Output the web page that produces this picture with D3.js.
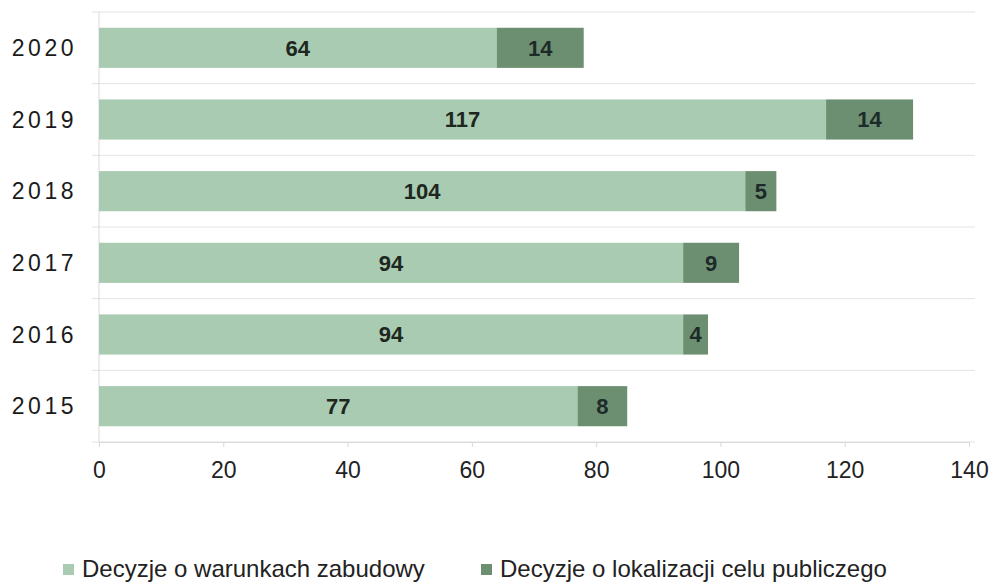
<!DOCTYPE html>
<html>
<head>
<meta charset="utf-8">
<script src="https://cdn.jsdelivr.net/npm/d3@7"></script>
<style>
  body { margin: 0; background: #fff; font-family: "Liberation Sans", Arial, sans-serif; }
</style>
</head>
<body>
<svg id="chart" width="992" height="583"></svg>
<script>
const years = ["2020", "2019", "2018", "2017", "2016", "2015"];
const warunki = [64, 117, 104, 94, 94, 77];
const lokalizacja = [14, 14, 5, 9, 4, 8];
const ticks = [0, 20, 40, 60, 80, 100, 120, 140];
const seriesNames = ["Decyzje o warunkach zabudowy", "Decyzje o lokalizacji celu publiczego"];
const colors = ["#a8cbb2", "#6d8f71"];

const margin = {top: 12, left: 99, right: 23, bottom: 141};
const width = 992 - margin.left - margin.right;
const height = 583 - margin.top - margin.bottom;

const svg = d3.select("#chart");
const g = svg.append("g").attr("transform", `translate(${margin.left},${margin.top})`);

const x = d3.scaleLinear().domain([0, 140]).range([0, width]);
const y = d3.scaleBand().domain(years).range([0, height]).paddingInner(0.44).paddingOuter(0.22);

// horizontal gridlines between rows
const lines = d3.range(years.length + 1).map(i => i * height / years.length);
g.selectAll(".grid")
  .data(lines)
  .enter().append("line")
  .attr("x1", -7).attr("x2", width + 6)
  .attr("y1", d => d).attr("y2", d => d)
  .attr("stroke", "#e3e3e3").attr("stroke-width", 1);

// vertical axis line
g.append("line")
  .attr("x1", 0).attr("x2", 0).attr("y1", 0).attr("y2", height)
  .attr("stroke", "#d9d9d9");

// x axis
const xAxis = g.append("g")
  .attr("transform", `translate(0,${height})`)
  .call(d3.axisBottom(x).tickValues(ticks).tickSize(5).tickPadding(15));
xAxis.select(".domain").attr("stroke", "#d9d9d9");
xAxis.selectAll(".tick line").attr("stroke", "#d9d9d9");
xAxis.selectAll("text")
  .attr("font-size", 23).attr("fill", "#222")
  .attr("font-family", "Liberation Sans, Arial, sans-serif");

// y labels
g.selectAll(".ylab")
  .data(years)
  .enter().append("text")
  .attr("x", -22)
  .attr("y", d => y(d) + y.bandwidth() / 2)
  .attr("dy", "0.36em")
  .attr("text-anchor", "end")
  .attr("font-size", 23)
  .attr("letter-spacing", 3.5)
  .attr("fill", "#1a1a1a")
  .text(d => d);

// bars
const rows = years.map((yr, i) => ({year: yr, a: warunki[i], b: lokalizacja[i]}));

g.selectAll(".barA")
  .data(rows)
  .enter().append("rect")
  .attr("x", x(0))
  .attr("y", d => y(d.year))
  .attr("width", d => x(d.a) - x(0))
  .attr("height", y.bandwidth())
  .attr("fill", colors[0]);

g.selectAll(".barB")
  .data(rows)
  .enter().append("rect")
  .attr("x", d => x(d.a))
  .attr("y", d => y(d.year))
  .attr("width", d => x(d.a + d.b) - x(d.a))
  .attr("height", y.bandwidth())
  .attr("fill", colors[1]);

g.selectAll(".labA")
  .data(rows)
  .enter().append("text")
  .attr("x", d => x(d.a / 2))
  .attr("y", d => y(d.year) + y.bandwidth() / 2)
  .attr("dy", "0.36em")
  .attr("text-anchor", "middle")
  .attr("font-size", 22).attr("font-weight", "bold")
  .attr("fill", "#1e2620")
  .text(d => d.a);

g.selectAll(".labB")
  .data(rows)
  .enter().append("text")
  .attr("x", d => x(d.a + d.b / 2))
  .attr("y", d => y(d.year) + y.bandwidth() / 2)
  .attr("dy", "0.36em")
  .attr("text-anchor", "middle")
  .attr("font-size", 22).attr("font-weight", "bold")
  .attr("fill", "#1c2b2a")
  .text(d => d.b);

// legend
const legendX = [63, 481];
const legend = svg.selectAll(".legend")
  .data(seriesNames)
  .enter().append("g")
  .attr("transform", (d, i) => `translate(${legendX[i]},564)`);
legend.append("rect")
  .attr("x", 0).attr("y", 0).attr("width", 11).attr("height", 11)
  .attr("fill", (d, i) => colors[i]);
legend.append("text")
  .attr("x", 19).attr("y", 13)
  .attr("font-size", 24).attr("fill", "#222")
  .text(d => d);
</script>
</body>
</html>
